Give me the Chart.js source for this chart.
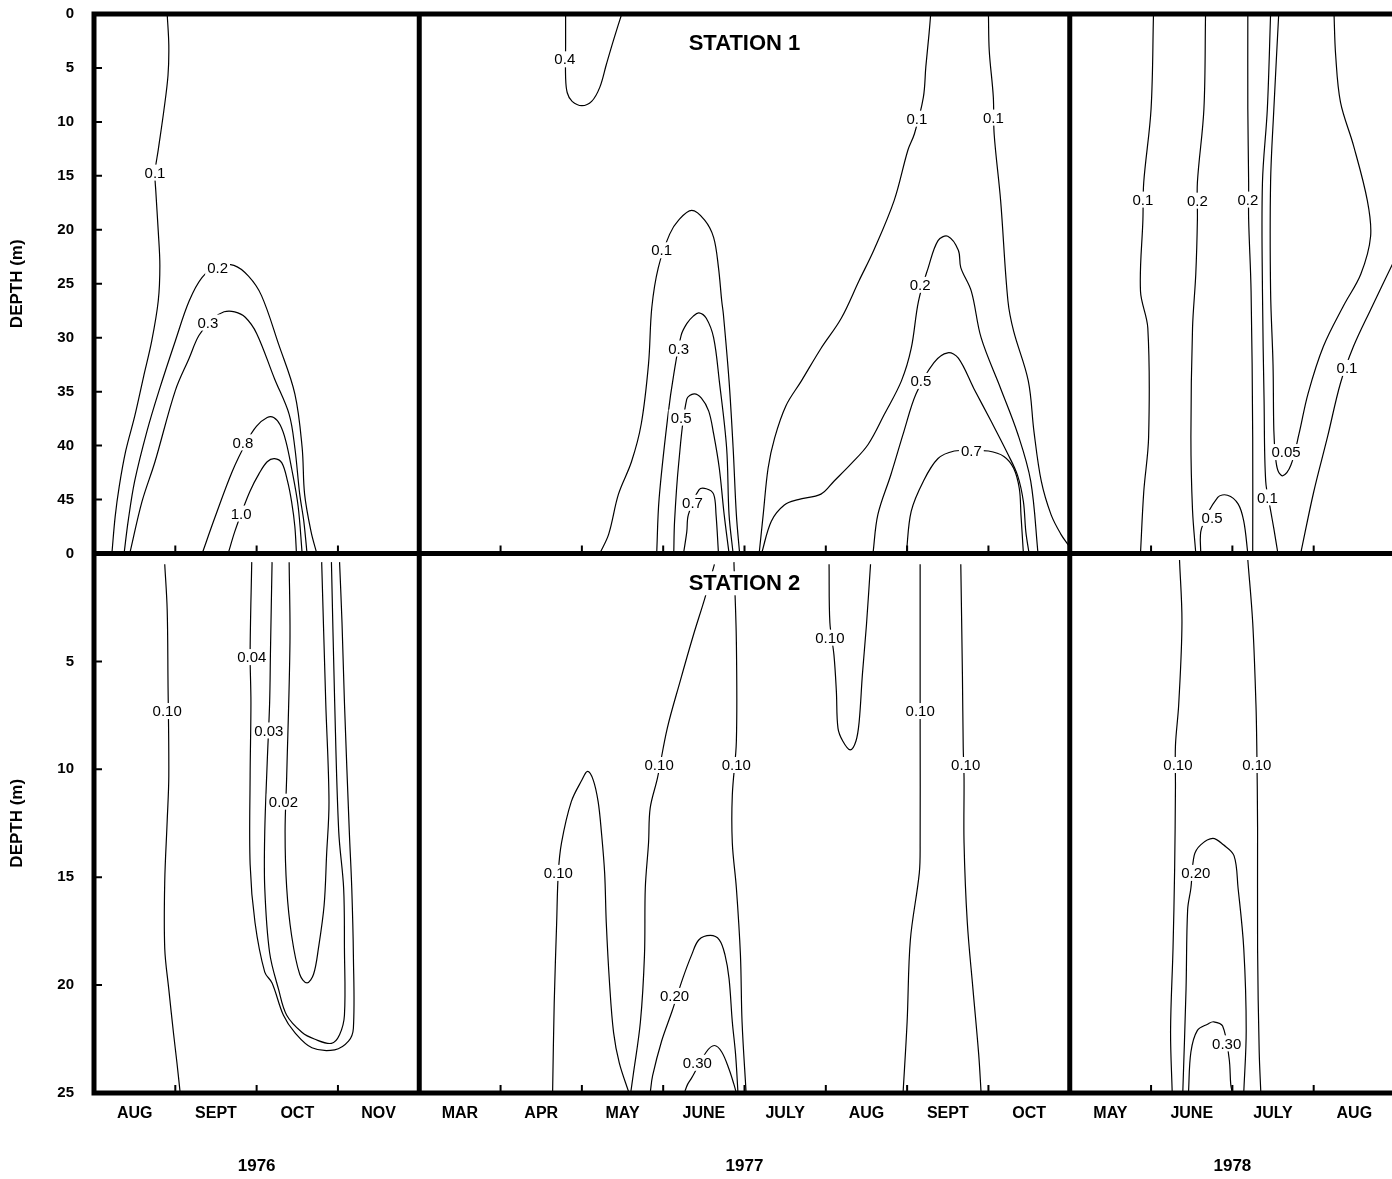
<!DOCTYPE html>
<html>
<head>
<meta charset="utf-8">
<title>Station depth profiles 1976-1978</title>
<script src="https://cdn.jsdelivr.net/npm/chart.js@4.4.1/dist/chart.umd.min.js"></script>
<style>
  html, body { margin: 0; padding: 0; background: #fff; overflow: hidden; }
  #wrap { position: relative; width: 1400px; height: 1179px; }
</style>
</head>
<body>
<div id="wrap"><canvas id="cDepth" width="1400" height="1179"></canvas></div>
<script>
const FONT = "'Liberation Sans', Arial, Helvetica, sans-serif";

// ── Axis categories ─────────────────────────────────────────
const years        = ['1976', '1977', '1978'];
const firstMonth   = [8, 3, 5];               // month number at left edge of each year block
const months1976   = ['AUG', 'SEPT', 'OCT', 'NOV'];
const months1977   = ['MAR', 'APR', 'MAY', 'JUNE', 'JULY', 'AUG', 'SEPT', 'OCT'];
const months1978   = ['MAY', 'JUNE', 'JULY', 'AUG'];
const depthMax     = [50, 25];                // station 1, station 2 (m)
const stationNames = ['STATION 1', 'STATION 2'];

// ── Contours: each path is [month, depth]; month 8.0 = 1 Aug ─
// Station 1, 1976
const st1_1976 = [
  [[8.90,0],[8.92,2.9],[8.91,5.7],[8.86,8.9],[8.79,12.6],[8.75,14.7],[8.76,16.4],[8.79,20.1],[8.81,23.3],[8.79,26.6],[8.71,30.3],[8.61,33.6],[8.50,37.3],[8.39,40.5],[8.31,43.8],[8.26,46.6],[8.22,50]],
  [[8.37,50],[8.42,47.0],[8.50,43.3],[8.65,38.7],[8.80,34.9],[9.00,30.3],[9.17,26.6],[9.33,24.4],[9.51,23.4],[9.72,23.3],[9.90,24.3],[10.06,26.1],[10.27,30.6],[10.47,35.2],[10.56,40.2],[10.59,44.5],[10.67,48.0],[10.74,50]],
  [[8.44,50],[8.59,45.2],[8.75,41.5],[9.00,34.9],[9.17,31.9],[9.29,29.8],[9.45,28.3],[9.60,27.6],[9.73,27.6],[9.86,28.1],[10.00,29.6],[10.22,33.8],[10.40,37.1],[10.47,40.2],[10.53,44.5],[10.58,47.0],[10.62,50]],
  [[9.33,50],[9.49,46.6],[9.70,42.4],[9.88,39.6],[10.00,38.2],[10.13,37.4],[10.21,37.4],[10.29,38.1],[10.36,39.6],[10.43,42.1],[10.51,45.6],[10.56,50]],
  [[9.65,50],[9.73,48.0],[9.82,46.1],[9.92,44.2],[10.03,42.6],[10.13,41.5],[10.22,41.2],[10.31,41.6],[10.38,43.3],[10.43,45.2],[10.47,47.5],[10.49,50]],
];
const st1_1976Labels = [['0.1',8.75,14.7],['0.2',9.52,23.5],['0.3',9.40,28.6],['0.8',9.83,39.7],['1.0',9.81,46.3]];

// Station 2, 1976
const st2_1976 = [
  [[8.87,0.5],[8.90,2.6],[8.91,5.9],[8.92,10.3],[8.90,12.4],[8.87,15.2],[8.87,18.3],[8.92,20.2],[8.98,22.3],[9.02,23.6],[9.06,25]],
  [[9.94,0.4],[9.92,4.6],[9.93,6.9],[9.92,10.3],[9.92,14.4],[9.98,17.1],[10.10,19.4],[10.19,19.9],[10.33,21.4],[10.47,22.2],[10.68,22.9],[10.96,23.0],[11.13,22.6],[11.19,22.0],[11.19,18.6],[11.17,15.5],[11.14,12.9],[11.08,6.9],[11.05,3.2],[11.02,0.4]],
  [[10.19,0.4],[10.17,4.6],[10.16,6.9],[10.13,9.7],[10.10,12.9],[10.10,15.5],[10.16,18.5],[10.27,20.2],[10.37,21.4],[10.56,22.2],[10.71,22.5],[10.92,22.7],[11.02,22.3],[11.08,21.4],[11.08,18.3],[11.07,15.5],[11.01,12.9],[10.96,6.9],[10.92,0.4]],
  [[10.40,0.4],[10.41,4.1],[10.37,10.3],[10.35,12.9],[10.37,15.5],[10.43,17.7],[10.53,19.5],[10.62,19.9],[10.70,19.5],[10.76,18.3],[10.83,16.3],[10.86,14.0],[10.89,11.5],[10.85,6.9],[10.80,0.4]],
];
const st2_1976Labels = [['0.10',8.90,7.3],['0.04',9.94,4.8],['0.03',10.15,8.2],['0.02',10.33,11.5]];

// Station 1, 1977
const st1_1977 = [
  [[4.80,0],[4.80,2.7],[4.80,5.9],[4.82,7.3],[4.88,8.1],[5.00,8.5],[5.12,8.1],[5.22,6.8],[5.30,4.7],[5.39,2.4],[5.49,0]],
  [[5.22,50],[5.33,48.2],[5.45,44.5],[5.61,41.5],[5.73,38.0],[5.82,32.4],[5.86,27.2],[5.94,23.5],[6.08,20.4],[6.19,19.1],[6.35,18.2],[6.51,19.1],[6.62,20.7],[6.68,23.5],[6.72,26.6],[6.74,27.8],[6.81,34.0],[6.86,40.2],[6.90,46.4],[6.94,50]],
  [[5.92,50],[5.95,44.9],[6.06,37.1],[6.13,33.4],[6.22,29.8],[6.29,28.7],[6.37,28.0],[6.44,27.7],[6.53,28.2],[6.62,30.0],[6.69,34.0],[6.78,40.2],[6.81,46.4],[6.86,50]],
  [[6.13,50],[6.14,47.0],[6.19,41.7],[6.29,35.7],[6.38,35.2],[6.47,35.6],[6.56,36.8],[6.62,38.9],[6.69,42.1],[6.75,46.4],[6.81,50]],
  [[6.25,50],[6.29,48.0],[6.31,46.4],[6.44,44.1],[6.53,44.0],[6.62,44.5],[6.65,46.4],[6.68,50]],
  [[7.18,50],[7.23,46.4],[7.29,42.1],[7.37,39.3],[7.51,36.3],[7.70,34.0],[7.94,31.0],[8.19,28.2],[8.41,24.7],[8.59,21.9],[8.84,17.3],[9.01,12.6],[9.09,11.1],[9.20,7.7],[9.23,4.9],[9.27,1.8],[9.29,0]],
  [[7.21,50],[7.33,47.0],[7.49,45.5],[7.66,45.0],[7.94,44.5],[8.10,43.3],[8.31,41.7],[8.52,39.9],[8.72,37.1],[8.93,34.0],[9.05,31.0],[9.14,26.6],[9.26,23.5],[9.38,21.0],[9.50,20.6],[9.63,21.9],[9.66,23.5],[9.79,25.7],[9.91,30.0],[10.15,34.7],[10.36,38.9],[10.52,43.3],[10.61,50]],
  [[10.00,0],[10.01,3.4],[10.06,7.7],[10.07,11.1],[10.15,17.3],[10.24,26.6],[10.31,29.4],[10.49,34.0],[10.56,38.7],[10.65,43.3],[10.77,46.4],[10.89,48.2],[11.00,49.4]],
  [[8.58,50],[8.64,46.4],[8.80,42.7],[8.96,38.7],[9.11,35.2],[9.33,32.3],[9.50,31.4],[9.63,31.9],[9.82,34.7],[10.03,37.7],[10.24,40.8],[10.36,42.8],[10.43,45.2],[10.46,48.0],[10.50,50]],
  [[8.99,50],[9.05,46.1],[9.20,43.3],[9.38,41.2],[9.58,40.5],[9.79,40.5],[10.00,40.5],[10.19,41.0],[10.31,42.1],[10.38,44.0],[10.40,46.4],[10.43,50]],
];
const st1_1977Labels = [['0.4',4.79,4.2],['0.1',5.98,21.9],['0.3',6.19,31.0],['0.5',6.22,37.4],['0.7',6.36,45.3],
                        ['0.1',9.12,9.7],['0.2',9.16,25.1],['0.1',10.06,9.6],['0.5',9.17,34.0],['0.7',9.79,40.5]];

// Station 2, 1977
const st2_1977 = [
  [[4.64,25],[4.66,20.8],[4.69,17.1],[4.71,14.8],[4.75,13.4],[4.87,11.5],[5.00,10.5],[5.07,10.1],[5.14,10.5],[5.20,11.5],[5.24,12.9],[5.28,14.8],[5.30,17.1],[5.34,19.9],[5.39,22.2],[5.46,23.6],[5.58,25]],
  [[6.63,0.5],[6.51,2.1],[6.37,3.8],[6.21,5.9],[6.05,8.1],[5.93,10.4],[5.84,11.8],[5.82,13.4],[5.78,15.5],[5.77,18.6],[5.72,21.7],[5.63,24.2],[5.60,25]],
  [[6.87,0.4],[6.90,4.1],[6.90,8.7],[6.85,11.2],[6.85,13.4],[6.90,15.5],[6.95,18.6],[6.97,21.7],[7.02,25]],
  [[5.84,25],[5.87,24.2],[5.98,22.6],[6.11,21.2],[6.24,19.7],[6.35,18.6],[6.44,17.9],[6.58,17.7],[6.69,17.9],[6.76,18.6],[6.81,19.7],[6.85,21.7],[6.89,23.2],[6.92,25]],
  [[6.26,25],[6.30,24.6],[6.35,24.3],[6.53,23.1],[6.63,22.8],[6.72,23.1],[6.81,23.9],[6.87,24.6],[6.90,25]],
  [[8.04,0.5],[8.05,3.2],[8.10,4.7],[8.13,6.4],[8.15,8.1],[8.21,8.7],[8.30,9.1],[8.37,8.7],[8.41,7.8],[8.45,5.6],[8.50,3.3],[8.55,0.5]],
  [[9.16,0.5],[9.16,6.4],[9.16,8.1],[9.16,13.4],[9.15,14.8],[9.04,17.9],[9.00,21.7],[8.95,25]],
  [[9.66,0.5],[9.68,5.6],[9.69,9.0],[9.70,10.4],[9.70,13.4],[9.74,17.1],[9.81,20.2],[9.88,23.2],[9.91,25]],
];
const st2_1977Labels = [['0.10',4.71,14.8],['0.10',5.95,9.8],['0.10',6.90,9.8],['0.20',6.14,20.5],['0.30',6.42,23.6],
                        ['0.10',8.05,3.9],['0.10',9.16,7.3],['0.10',9.72,9.8]];

// Station 1, 1978
const st1_1978 = [
  [[6.03,0],[6.00,8.8],[5.91,15.6],[5.90,19.0],[5.87,25.7],[5.96,29.1],[5.97,39.2],[5.91,44.3],[5.87,50]],
  [[6.67,0],[6.65,8.8],[6.57,15.6],[6.57,19.0],[6.55,24.1],[6.51,29.1],[6.49,39.2],[6.51,46.0],[6.55,50]],
  [[6.61,50],[6.62,47.7],[6.82,44.8],[6.94,44.6],[7.07,45.4],[7.14,47.0],[7.19,50]],
  [[7.19,0],[7.19,8.8],[7.20,15.6],[7.20,19.0],[7.23,25.7],[7.25,39.2],[7.25,50]],
  [[7.47,0],[7.43,8.8],[7.37,15.6],[7.37,25.7],[7.39,35.9],[7.41,43.3],[7.47,46.0],[7.51,47.7],[7.56,50]],
  [[7.57,0],[7.51,8.8],[7.47,15.6],[7.47,25.7],[7.50,32.5],[7.51,38.6],[7.53,41.0],[7.56,42.3],[7.62,42.8],[7.72,41.8],[7.82,38.9],[7.93,35.2],[8.12,30.8],[8.37,27.0],[8.58,24.1],[8.70,20.6],[8.66,17.3],[8.49,12.2],[8.33,8.2],[8.27,3.8],[8.25,0]],
  [[7.84,50],[8.00,44.3],[8.17,39.2],[8.33,34.2],[8.49,30.8],[8.70,27.4],[9.00,22.7]],
];
const st1_1978Labels = [['0.1',5.90,17.2],['0.2',6.57,17.3],['0.2',7.19,17.2],['0.5',6.75,46.7],
                        ['0.1',7.43,44.8],['0.05',7.66,40.6],['0.1',8.41,32.8]];

// Station 2, 1978
const st2_1978 = [
  [[6.35,0.3],[6.38,3.2],[6.34,7.0],[6.30,8.9],[6.30,10.8],[6.29,14.6],[6.27,18.3],[6.24,22.1],[6.26,25]],
  [[7.19,0.3],[7.25,3.2],[7.29,7.0],[7.30,8.9],[7.31,12.7],[7.31,18.3],[7.33,23.1],[7.35,25]],
  [[6.39,25],[6.43,20.2],[6.45,16.5],[6.49,15.5],[6.53,14.0],[6.61,13.5],[6.76,13.2],[6.89,13.5],[7.02,14.0],[7.07,15.5],[7.14,18.3],[7.17,22.1],[7.14,25]],
  [[6.46,25],[6.49,23.1],[6.57,22.1],[6.70,21.8],[6.77,21.7],[6.88,21.9],[6.96,23.4],[6.98,24.6],[7.00,25]],
];
const st2_1978Labels = [['0.10',6.33,9.8],['0.10',7.30,9.8],['0.20',6.55,14.8],['0.30',6.93,22.7]];

// ── Continuous month axis: year blocks placed side by side ──
const monthLists = [months1976, months1977, months1978];
const blockStart = [];
let axisMax = 0;
monthLists.forEach(l => { blockStart.push(axisMax); axisMax += l.length; });
const toAxis = (blk, m) => blockStart[blk] + (m - firstMonth[blk]);

const monthTicks = [];
monthLists.forEach((l, b) => l.forEach((name, i) => monthTicks.push({ value: blockStart[b] + i + 0.5, label: name })));
const yearTicks = years.map((y, b) => ({ value: blockStart[b] + monthLists[b].length / 2, label: y }));

// ── Datasets & label marks ──────────────────────────────────
const panels = [
  [st1_1976, st1_1976Labels, 0, 'y1'], [st2_1976, st2_1976Labels, 0, 'y2'],
  [st1_1977, st1_1977Labels, 1, 'y1'], [st2_1977, st2_1977Labels, 1, 'y2'],
  [st1_1978, st1_1978Labels, 2, 'y1'], [st2_1978, st2_1978Labels, 2, 'y2'],
];
const datasets = [];
const labelMarks = [];
panels.forEach(([paths, labels, blk, axis]) => {
  paths.forEach(p => datasets.push({
    data: p.map(([m, d]) => ({ x: toAxis(blk, m), y: d })),
    xAxisID: 'x', yAxisID: axis,
    showLine: true, fill: false, tension: 0.35,
    borderColor: '#000', borderWidth: 1.2, pointRadius: 0,
  }));
  labels.forEach(([text, m, d]) => labelMarks.push({ text, x: toAxis(blk, m), y: d, axis }));
});

// Contour values sit on a white patch that breaks the line
const contourLabels = {
  id: 'contourLabels',
  afterDatasetsDraw(chart) {
    const { ctx, scales } = chart;
    ctx.save();
    ctx.font = `15px ${FONT}`;
    ctx.textAlign = 'center';
    ctx.textBaseline = 'middle';
    labelMarks.forEach(l => {
      const px = scales.x.getPixelForValue(l.x);
      const py = scales[l.axis].getPixelForValue(l.y);
      const w = ctx.measureText(l.text).width + 4;
      ctx.fillStyle = '#fff';
      ctx.fillRect(px - w / 2, py - 8, w, 16);
      ctx.fillStyle = '#000';
      ctx.fillText(l.text, px, py + 1);
    });
    ctx.restore();
  }
};

// Heavy panel frame, inward tick marks and station titles
const frame = {
  id: 'frame',
  afterDatasetsDraw(chart) {
    const { ctx, chartArea: a, scales: { x, y1, y2 } } = chart;
    ctx.save();
    ctx.strokeStyle = '#000';
    ctx.lineCap = 'square';

    // tick marks
    ctx.lineWidth = 2;
    ctx.beginPath();
    for (let v = 1; v < axisMax; v++) {
      if (blockStart.includes(v)) continue;
      const px = x.getPixelForValue(v);
      [y1.bottom, y2.bottom].forEach(yy => { ctx.moveTo(px, yy); ctx.lineTo(px, yy - 7); });
    }
    [[y1, depthMax[0]], [y2, depthMax[1]]].forEach(([sc, max]) => {
      for (let v = 5; v < max; v += 5) {
        const py = sc.getPixelForValue(v);
        ctx.moveTo(a.left, py); ctx.lineTo(a.left + 7, py);
      }
    });
    ctx.stroke();

    // frame
    ctx.lineWidth = 5;
    ctx.beginPath();
    [y1.top, y1.bottom, y2.bottom].forEach(yy => { ctx.moveTo(a.left, yy); ctx.lineTo(a.right + 20, yy); });
    blockStart.forEach(v => {
      const px = x.getPixelForValue(v);
      ctx.moveTo(px, a.top); ctx.lineTo(px, a.bottom);
    });
    ctx.stroke();

    // station titles
    ctx.font = `bold 22px ${FONT}`;
    ctx.textAlign = 'center';
    ctx.textBaseline = 'middle';
    const cx = x.getPixelForValue(blockStart[1] + months1977.length / 2);
    [[y1, 2.65], [y2, 1.38]].forEach(([sc, d], i) => {
      const py = sc.getPixelForValue(d);
      const w = ctx.measureText(stationNames[i]).width + 8;
      ctx.fillStyle = '#fff';
      ctx.fillRect(cx - w / 2, py - 12, w, 24);
      ctx.fillStyle = '#000';
      ctx.fillText(stationNames[i], cx, py + 1);
    });
    ctx.restore();
  }
};

const tickFont = size => ({ family: FONT, size, weight: 'bold' });
const noPad = s => { s.paddingTop = 0; s.paddingBottom = 0; s.paddingLeft = 0; s.paddingRight = 0; };
const depthAxis = (max, weight) => ({
  type: 'linear', position: 'left', stack: 'depth', stackWeight: 1, weight,
  reverse: true, min: 0, max,
  grid: { display: false, drawTicks: false }, border: { display: false },
  ticks: {
    stepSize: 5, color: '#000', padding: 20, font: tickFont(15),
    callback: v => (max === depthMax[0] && v === max) ? '' : v,
  },
  title: { display: true, text: 'DEPTH (m)', color: '#000', font: tickFont(17), padding: { top: 7, bottom: 0 } },
  afterFit: s => { s.width = 94; noPad(s); },
});

new Chart(document.getElementById('cDepth').getContext('2d'), {
  type: 'scatter',
  data: { datasets },
  options: {
    responsive: false, devicePixelRatio: 1, animation: false, events: [],
    layout: { padding: { top: 14, right: 5, bottom: 0, left: 0 } },
    plugins: { legend: { display: false }, tooltip: { enabled: false } },
    scales: {
      x: {
        type: 'linear', position: 'bottom', min: 0, max: axisMax, weight: 0,
        grid: { display: false, drawTicks: false }, border: { display: false },
        afterBuildTicks: s => { s.ticks = monthTicks.map(t => ({ value: t.value })); },
        ticks: { autoSkip: false, maxRotation: 0, color: '#000', padding: 11, font: tickFont(16),
                 callback: (v, i) => monthTicks[i] ? monthTicks[i].label : '' },
        afterFit: s => { s.height = 48; noPad(s); },
      },
      xYear: {
        type: 'linear', axis: 'x', position: 'bottom', min: 0, max: axisMax, weight: 1,
        grid: { display: false, drawTicks: false }, border: { display: false },
        afterBuildTicks: s => { s.ticks = yearTicks.map(t => ({ value: t.value })); },
        ticks: { autoSkip: false, maxRotation: 0, color: '#000', padding: 15, font: tickFont(17),
                 callback: (v, i) => yearTicks[i] ? yearTicks[i].label : '' },
        afterFit: s => { s.height = 38; noPad(s); },
      },
      y1: depthAxis(depthMax[0], 1),
      y2: depthAxis(depthMax[1], 0),
    },
  },
  plugins: [contourLabels, frame],
});
</script>
</body>
</html>
